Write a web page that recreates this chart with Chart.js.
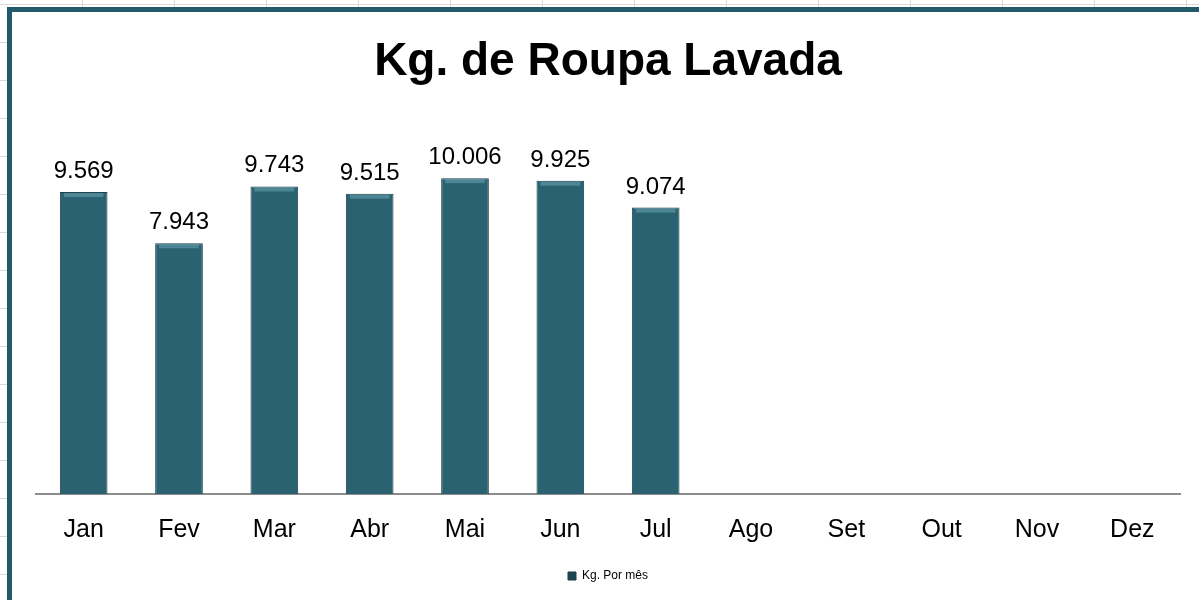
<!DOCTYPE html>
<html>
<head>
<meta charset="utf-8">
<script src="https://cdn.jsdelivr.net/npm/chart.js@4"></script>
<style>
  html, body { margin: 0; padding: 0; background: #fff; }
  #wrap { position: relative; width: 1199px; height: 600px; overflow: hidden; }
  /* faint spreadsheet cells behind the chart frame */
  #sheet { position: absolute; left: 0; top: 0; width: 1199px; height: 600px;
    background-image:
      linear-gradient(to right, #d9d9d9 1px, transparent 1px),
      linear-gradient(to bottom, #d9d9d9 1px, transparent 1px);
    background-size: 92px 38px, 92px 38px;
    background-position: 82px 0, 0 4px; }
  #frame { position: absolute; left: 7px; top: 7px; width: 1210px; height: 620px;
    border: 5px solid #235a6a; background: #fff; }
  #chartBox { position: absolute; left: 0; top: 0; width: 1199px; height: 600px; }
</style>
</head>
<body>
<div id="wrap">
  <div id="sheet"></div>
  <div id="frame"></div>
  <div id="chartBox"><canvas id="kgChart"></canvas></div>
</div>
<script>
const months = ['Jan','Fev','Mar','Abr','Mai','Jun','Jul','Ago','Set','Out','Nov','Dez'];
const kgPorMes = [9569, 7943, 9743, 9515, 10006, 9925, 9074, null, null, null, null, null];
const kgLabels = ['9.569','7.943','9.743','9.515','10.006','9.925','9.074'];

// bars get a darker rim and a lighter top edge, like the excel bevel
let barFill = function(ctx){
    const chart = ctx.chart;
    const el = ctx.element;
    if (!el || el.x === undefined || !chart.chartArea) return '#2a6272';
    const w = el.width || 47;
    const g = chart.ctx.createLinearGradient(el.x - w/2, 0, el.x + w/2, 0);
    g.addColorStop(0, '#1c4652');
    g.addColorStop(0.12, '#2b6474');
    g.addColorStop(0.5, '#2f6a7a');
    g.addColorStop(0.88, '#2b6474');
    g.addColorStop(1, '#1c4652');
    return g;
};

const valueLabels = {
    id: 'valueLabels',
    afterDatasetsDraw(chart){
        const c = chart.ctx;
        const meta = chart.getDatasetMeta(0);
        c.save();
        c.font = '24px "Liberation Sans", Arial, sans-serif';
        c.textAlign = 'center';
        c.textBaseline = 'alphabetic';
        meta.data.forEach(function(bar, i){
            if (kgPorMes[i] === null) return;
            // top bevel highlight
            c.fillStyle = 'rgba(120,180,190,0.45)';
            c.fillRect(bar.x - bar.width/2 + 4, bar.y + 1, bar.width - 8, 4);
            c.fillStyle = '#000';
            c.fillText(kgLabels[i], bar.x, bar.y - 14);
        });
        c.restore();
    }
};

const kgChart = new Chart(document.getElementById('kgChart').getContext('2d'), {
    type: 'bar',
    data: {
        labels: months,
        datasets: [{
            label: 'Kg. Por mês',
            data: kgPorMes,
            backgroundColor: barFill,
            borderColor: '#1a3f4a',
            borderWidth: 1,
            categoryPercentage: 1,
            barPercentage: 0.5
        }]
    },
    options: {
        responsive: true,
        maintainAspectRatio: false,
        animation: false,
        layout: { padding: { left: 36, right: 19, top: 16, bottom: 8 } },
        scales: {
            x: {
                grid: { display: false, drawTicks: false },
                border: { display: true, color: '#8c8c8c', width: 2 },
                ticks: {
                    color: '#000',
                    padding: 21,
                    font: { family: '"Liberation Sans", Arial, sans-serif', size: 25 }
                }
            },
            y: {
                display: false,
                min: 0,
                max: 12000
            }
        },
        plugins: {
            title: {
                display: true,
                text: 'Kg. de Roupa Lavada',
                color: '#000',
                font: { family: '"Liberation Sans", Arial, sans-serif', size: 46, weight: 'bold' },
                padding: { top: 19, bottom: 25 }
            },
            legend: {
                display: true,
                position: 'bottom',
                labels: {
                    color: '#000',
                    boxWidth: 8,
                    boxHeight: 8,
                    padding: 4,
                    font: { family: '"Liberation Sans", Arial, sans-serif', size: 12 }
                }
            },
            tooltip: { enabled: false }
        }
    },
    plugins: [valueLabels]
});
</script>
</body>
</html>
